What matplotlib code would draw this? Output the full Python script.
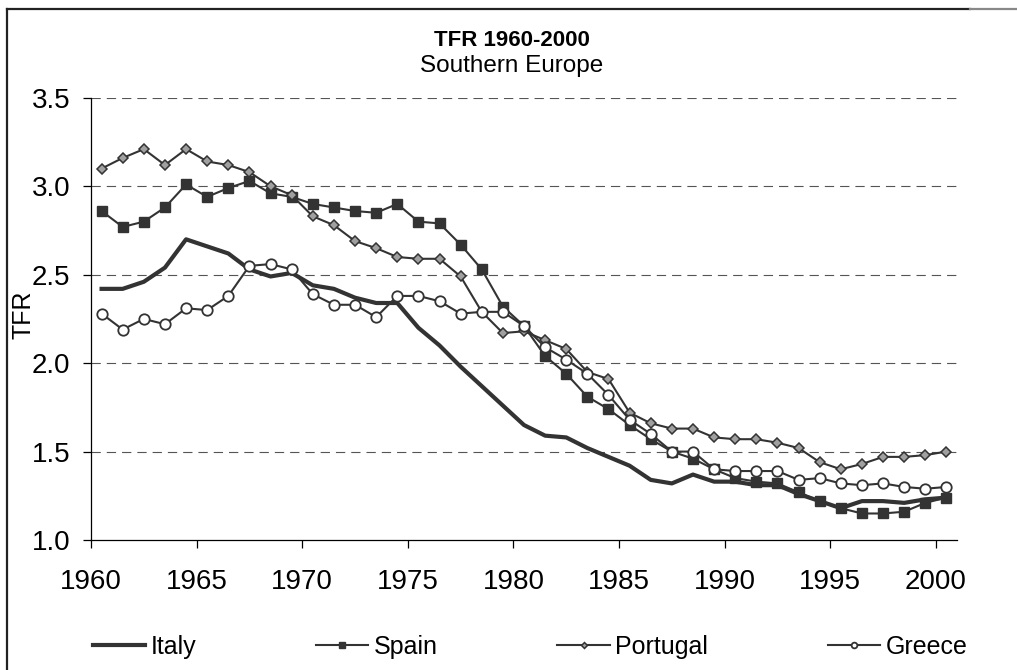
import numpy as np
import matplotlib
matplotlib.use("Agg")
import matplotlib.pyplot as plt
from matplotlib.lines import Line2D

# ==========================
# DATA
# ==========================
years = list(range(1960, 2001))

italy = [2.42, 2.42, 2.46, 2.54, 2.70, 2.66, 2.62, 2.53, 2.49, 2.51,
         2.44, 2.42, 2.37, 2.34, 2.34, 2.20, 2.10, 1.98, 1.87, 1.76,
         1.65, 1.59, 1.58, 1.52, 1.47, 1.42, 1.34, 1.32, 1.37, 1.33,
         1.33, 1.31, 1.31, 1.26, 1.22, 1.18, 1.22, 1.22, 1.21, 1.23,
         1.24]
spain = [2.86, 2.77, 2.80, 2.88, 3.01, 2.94, 2.99, 3.03, 2.96, 2.94,
         2.90, 2.88, 2.86, 2.85, 2.90, 2.80, 2.79, 2.67, 2.53, 2.32,
         2.21, 2.04, 1.94, 1.81, 1.74, 1.65, 1.57, 1.50, 1.46, 1.40,
         1.35, 1.33, 1.32, 1.27, 1.22, 1.18, 1.15, 1.15, 1.16, 1.21,
         1.24]
portugal = [3.10, 3.16, 3.21, 3.12, 3.21, 3.14, 3.12, 3.08, 3.00, 2.95,
            2.83, 2.78, 2.69, 2.65, 2.60, 2.59, 2.59, 2.49, 2.29, 2.17,
            2.18, 2.13, 2.08, 1.95, 1.91, 1.72, 1.66, 1.63, 1.63, 1.58,
            1.57, 1.57, 1.55, 1.52, 1.44, 1.40, 1.43, 1.47, 1.47, 1.48,
            1.50]
greece = [2.28, 2.19, 2.25, 2.22, 2.31, 2.30, 2.38, 2.55, 2.56, 2.53,
          2.39, 2.33, 2.33, 2.26, 2.38, 2.38, 2.35, 2.28, 2.29, 2.29,
          2.21, 2.09, 2.02, 1.94, 1.82, 1.68, 1.60, 1.50, 1.50, 1.40,
          1.39, 1.39, 1.39, 1.34, 1.35, 1.32, 1.31, 1.32, 1.30, 1.29,
          1.30]

xticks = list(range(1960, 2001, 5))
yticks = [1.0, 1.5, 2.0, 2.5, 3.0, 3.5]

# ==========================
# STYLE
# ==========================
plt.rcParams["font.family"] = ["Liberation Sans", "DejaVu Sans"]
plt.rcParams["lines.scale_dashes"] = False
DARK = "#333333"

fig = plt.figure(figsize=(10.17, 6.70), dpi=100)
ax = fig.add_axes([0.0895, 0.194, 0.8515, 0.66])

# categories sit in the middle of each year slot
x = np.array(years) + 0.5

ax.plot(x, italy, color=DARK, lw=3.0, label="Italy", zorder=3)
ax.plot(x, spain, color=DARK, lw=1.5, marker="s", ms=7.3,
        mfc=DARK, mec=DARK, label="Spain", zorder=4)
ax.plot(x, portugal, color=DARK, lw=1.5, marker="D", ms=5.5,
        mfc="#a0a0a0", mec=DARK, mew=1.1, label="Portugal", zorder=5)
ax.plot(x, greece, color=DARK, lw=1.5, marker="o", ms=7.5,
        mfc="white", mec=DARK, mew=1.3, label="Greece", zorder=6)

ax.set_xlim(1960, 2001)
ax.set_ylim(1.0, 3.5)
ax.set_xticks(xticks)
ax.set_yticks(yticks)
ax.set_yticklabels([f"{v:.1f}" for v in yticks])

for v in yticks[1:]:
    ax.axhline(v, color="#555555", lw=0.8, linestyle=(0, (6.7, 4.3)), zorder=1)

for side in ["top", "right"]:
    ax.spines[side].set_visible(False)
for side in ["left", "bottom"]:
    ax.spines[side].set_color("black")
    ax.spines[side].set_linewidth(0.9)

ax.tick_params(axis="y", direction="out", length=6, width=0.9,
               labelsize=20, pad=9)
ax.tick_params(axis="x", direction="out", length=6, width=0.9,
               labelsize=20, pad=15)

ax.set_ylabel("TFR", fontsize=18)
ax.yaxis.set_label_coords(-0.064, 0.51)

fig.text(0.503, 1 - 40 / 670, "TFR 1960-2000", ha="center", va="center",
         fontsize=16, fontweight="bold")
fig.text(0.503, 1 - 66 / 670, "Southern Europe", ha="center", va="center",
         fontsize=17.5)

ax.legend(loc="center", bbox_to_anchor=(530 / 1017, 1 - 647 / 670),
          bbox_transform=fig.transFigure, ncol=4, frameon=False,
          fontsize=18, handlelength=2.1, handletextpad=0.2,
          columnspacing=4.8, markerscale=0.55)

# outer chart-area frame (only left and top edges are visible)
fig.add_artist(Line2D([7 / 1017, 7 / 1017], [0, 1 - 9 / 670],
                      transform=fig.transFigure, color="#222222", lw=1.6))
fig.add_artist(Line2D([7 / 1017, 970 / 1017], [1 - 9 / 670, 1 - 9 / 670],
                      transform=fig.transFigure, color="#222222", lw=1.6))
fig.add_artist(Line2D([970 / 1017, 1], [1 - 9 / 670, 1 - 9 / 670],
                      transform=fig.transFigure, color="#888888", lw=1.6))

fig.savefig("out.png", dpi=100)
